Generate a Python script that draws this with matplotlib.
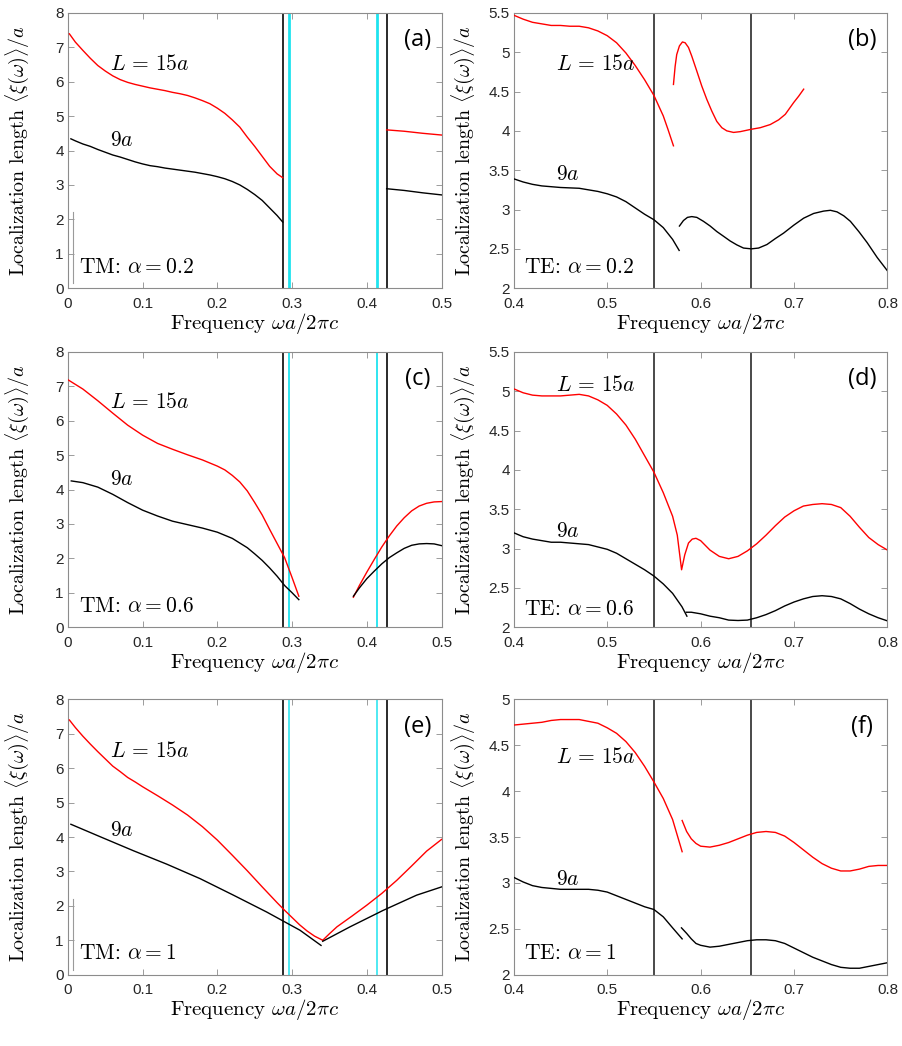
import matplotlib
matplotlib.use("Agg")
import matplotlib.pyplot as plt

plt.rcParams['mathtext.fontset'] = 'cm'
plt.rcParams['font.family'] = ['Liberation Sans', 'DejaVu Sans']

# ---- panel (a): TM, alpha = 0.2
a_red1_x = [0.002, 0.01, 0.02, 0.03, 0.04, 0.05, 0.06, 0.07, 0.08, 0.09, 0.10, 0.11, 0.12, 0.13, 0.14, 0.15,
            0.16, 0.17, 0.18, 0.19, 0.20, 0.21, 0.22, 0.23, 0.24, 0.25, 0.26, 0.27, 0.28, 0.2875]
a_red1_y = [7.39, 7.15, 6.91, 6.68, 6.47, 6.31, 6.17, 6.06, 5.98, 5.92, 5.87, 5.82, 5.78, 5.74, 5.69, 5.65,
            5.60, 5.53, 5.45, 5.36, 5.23, 5.08, 4.89, 4.68, 4.39, 4.12, 3.83, 3.54, 3.32, 3.21]
a_red2_x = [0.4265, 0.45, 0.475, 0.5]
a_red2_y = [4.60, 4.56, 4.50, 4.45]
a_blk1_x = [0.004, 0.01, 0.02, 0.03, 0.04, 0.05, 0.06, 0.07, 0.08, 0.09, 0.10, 0.11, 0.12, 0.13, 0.14, 0.15,
            0.16, 0.17, 0.18, 0.19, 0.20, 0.21, 0.22, 0.23, 0.24, 0.25, 0.26, 0.27, 0.28, 0.2875]
a_blk1_y = [4.34, 4.28, 4.19, 4.12, 4.03, 3.95, 3.87, 3.81, 3.74, 3.67, 3.61, 3.56, 3.53, 3.49, 3.46, 3.43,
            3.40, 3.37, 3.33, 3.29, 3.24, 3.18, 3.10, 3.00, 2.87, 2.72, 2.55, 2.33, 2.11, 1.92]
a_blk2_x = [0.4265, 0.45, 0.475, 0.5]
a_blk2_y = [2.89, 2.84, 2.77, 2.71]

# ---- panel (b): TE, alpha = 0.2
b_red1_x = [0.40, 0.41, 0.42, 0.43, 0.44, 0.45, 0.46, 0.47, 0.48, 0.49, 0.50, 0.51, 0.52, 0.53, 0.54, 0.55,
            0.56, 0.565, 0.5709]
b_red1_y = [5.47, 5.42, 5.38, 5.36, 5.34, 5.34, 5.33, 5.33, 5.31, 5.27, 5.21, 5.12, 4.99, 4.83, 4.65, 4.45,
            4.19, 4.02, 3.81]
b_red2_x = [0.5709, 0.5727, 0.5744, 0.5773, 0.5805, 0.5834, 0.587, 0.5905, 0.5959, 0.6012, 0.6066, 0.612,
            0.6173, 0.6227, 0.628, 0.6352, 0.6424, 0.6542, 0.6638, 0.6745, 0.6835, 0.6906, 0.6996, 0.7049, 0.7103]
b_red2_y = [4.59, 4.82, 4.97, 5.08, 5.13, 5.12, 5.06, 4.95, 4.76, 4.57, 4.40, 4.25,
            4.12, 4.04, 4.00, 3.98, 3.99, 4.02, 4.04, 4.08, 4.14, 4.21, 4.36, 4.44, 4.53]
b_blk1_x = [0.40, 0.41, 0.42, 0.43, 0.44, 0.45, 0.46, 0.47, 0.48, 0.49, 0.50, 0.51, 0.52, 0.53, 0.54, 0.55,
            0.56, 0.57, 0.577]
b_blk1_y = [3.39, 3.35, 3.32, 3.30, 3.29, 3.28, 3.275, 3.27, 3.25, 3.23, 3.20, 3.16, 3.10, 3.02, 2.94, 2.87,
            2.77, 2.62, 2.48]
b_blk2_x = [0.5773, 0.5816, 0.5859, 0.5905, 0.5959, 0.603, 0.6102, 0.6173, 0.6245, 0.6316, 0.6388, 0.6459,
            0.6542, 0.662, 0.671, 0.6799, 0.6888, 0.6996, 0.7103, 0.721, 0.7317, 0.7389, 0.746, 0.7532, 0.7603,
            0.7693, 0.7782, 0.789, 0.8]
b_blk2_y = [2.79, 2.86, 2.90, 2.91, 2.90, 2.85, 2.79, 2.72, 2.66, 2.60, 2.55, 2.51,
            2.50, 2.51, 2.555, 2.63, 2.70, 2.80, 2.89, 2.95, 2.98, 2.99, 2.97, 2.92, 2.85,
            2.72, 2.58, 2.39, 2.22]

# ---- panel (c): TM, alpha = 0.6
c_red1_x = [0.0, 0.02, 0.04, 0.06, 0.08, 0.10, 0.12, 0.14, 0.16, 0.18, 0.20, 0.21, 0.22, 0.23, 0.24, 0.25,
            0.26, 0.27, 0.28, 0.29, 0.30, 0.309]
c_red1_y = [7.19, 6.92, 6.58, 6.22, 5.87, 5.58, 5.34, 5.17, 5.01, 4.86, 4.68, 4.57, 4.41, 4.22, 3.96, 3.62,
            3.26, 2.84, 2.43, 2.02, 1.44, 0.90]
c_red2_x = [0.382, 0.39, 0.40, 0.41, 0.42, 0.43, 0.44, 0.45, 0.46, 0.47, 0.48, 0.49, 0.50]
c_red2_y = [0.87, 1.21, 1.60, 1.97, 2.33, 2.65, 2.94, 3.18, 3.38, 3.52, 3.60, 3.64, 3.65]
c_blk1_x = [0.0045, 0.02, 0.04, 0.06, 0.08, 0.10, 0.12, 0.14, 0.16, 0.18, 0.20, 0.22, 0.24, 0.25, 0.26, 0.27,
            0.28, 0.29, 0.30, 0.309]
c_blk1_y = [4.25, 4.20, 4.07, 3.86, 3.62, 3.40, 3.23, 3.08, 2.98, 2.88, 2.76, 2.58, 2.31, 2.13, 1.94, 1.72,
            1.48, 1.21, 1.00, 0.80]
c_blk2_x = [0.382, 0.39, 0.40, 0.41, 0.42, 0.43, 0.44, 0.45, 0.46, 0.47, 0.48, 0.49, 0.50]
c_blk2_y = [0.90, 1.14, 1.41, 1.63, 1.84, 2.02, 2.16, 2.29, 2.38, 2.42, 2.43, 2.42, 2.37]

# ---- panel (d): TE, alpha = 0.6
d_red_x = [0.40, 0.41, 0.42, 0.43, 0.44, 0.45, 0.46, 0.47, 0.48, 0.49, 0.50, 0.51, 0.52, 0.53, 0.54, 0.55,
           0.56, 0.57, 0.575, 0.5796, 0.583, 0.587, 0.591, 0.595, 0.60, 0.61, 0.62, 0.63, 0.64, 0.65, 0.66,
           0.67, 0.68, 0.69, 0.70, 0.71, 0.72, 0.73, 0.74, 0.75, 0.76, 0.77, 0.78, 0.79, 0.80]
d_red_y = [5.03, 4.98, 4.95, 4.94, 4.94, 4.94, 4.95, 4.96, 4.94, 4.89, 4.82, 4.71, 4.57, 4.39, 4.18, 3.97,
           3.71, 3.41, 3.17, 2.73, 2.92, 3.07, 3.12, 3.13, 3.10, 2.98, 2.90, 2.87, 2.90, 2.97, 3.06,
           3.17, 3.29, 3.40, 3.48, 3.54, 3.56, 3.57, 3.56, 3.52, 3.41, 3.27, 3.14, 3.05, 2.98]
d_blk1_x = [0.40, 0.41, 0.42, 0.43, 0.44, 0.45, 0.46, 0.47, 0.48, 0.49, 0.50, 0.51, 0.52, 0.53, 0.54, 0.55,
            0.56, 0.57, 0.58, 0.5853]
d_blk1_y = [3.20, 3.15, 3.12, 3.10, 3.08, 3.08, 3.07, 3.06, 3.05, 3.02, 2.99, 2.94, 2.87, 2.80, 2.73, 2.65,
            2.55, 2.43, 2.26, 2.14]
d_blk2_x = [0.5846, 0.59, 0.60, 0.61, 0.62, 0.63, 0.64, 0.65, 0.66, 0.67, 0.68, 0.69, 0.70, 0.71, 0.72, 0.73,
            0.74, 0.75, 0.76, 0.77, 0.78, 0.79, 0.80]
d_blk2_y = [2.19, 2.19, 2.17, 2.14, 2.12, 2.09, 2.085, 2.09, 2.12, 2.16, 2.21, 2.27, 2.32, 2.36, 2.39, 2.40,
            2.39, 2.36, 2.30, 2.23, 2.17, 2.12, 2.08]

# ---- panel (e): TM, alpha = 1
e_red1_x = [0.002, 0.01, 0.02, 0.03, 0.04, 0.05, 0.06, 0.07, 0.08, 0.09, 0.10, 0.12, 0.14, 0.16, 0.18, 0.20,
            0.22, 0.24, 0.26, 0.28, 0.29, 0.30, 0.31, 0.32, 0.33, 0.341]
e_red1_y = [7.40, 7.18, 6.93, 6.70, 6.48, 6.27, 6.06, 5.90, 5.73, 5.60, 5.46, 5.20, 4.93, 4.64, 4.30, 3.91,
            3.47, 3.02, 2.55, 2.09, 1.87, 1.66, 1.45, 1.27, 1.12, 1.00]
e_red2_x = [0.341, 0.35, 0.36, 0.38, 0.40, 0.42, 0.44, 0.46, 0.48, 0.50]
e_red2_y = [1.00, 1.19, 1.39, 1.70, 2.02, 2.36, 2.74, 3.16, 3.59, 3.93]
e_blk1_x = [0.004, 0.043, 0.0878, 0.1324, 0.1769, 0.2215, 0.266, 0.3106, 0.3387]
e_blk1_y = [4.37, 4.01, 3.60, 3.21, 2.79, 2.31, 1.82, 1.29, 0.85]
e_blk2_x = [0.341, 0.3775, 0.422, 0.4666, 0.5]
e_blk2_y = [0.97, 1.39, 1.87, 2.31, 2.55]

# ---- panel (f): TE, alpha = 1
f_red1_x = [0.40, 0.41, 0.42, 0.43, 0.44, 0.45, 0.46, 0.47, 0.48, 0.49, 0.50, 0.51, 0.52, 0.53, 0.54, 0.55,
            0.56, 0.57, 0.5802]
f_red1_y = [4.72, 4.73, 4.74, 4.75, 4.77, 4.78, 4.78, 4.78, 4.76, 4.74, 4.69, 4.63, 4.54, 4.42, 4.27, 4.10,
            3.92, 3.69, 3.34]
f_red2_x = [0.5802, 0.585, 0.59, 0.595, 0.60, 0.61, 0.62, 0.63, 0.64, 0.65, 0.66, 0.67, 0.68, 0.69, 0.70,
            0.71, 0.72, 0.73, 0.74, 0.75, 0.76, 0.77, 0.78, 0.79, 0.80]
f_red2_y = [3.68, 3.56, 3.48, 3.43, 3.40, 3.39, 3.41, 3.44, 3.48, 3.52, 3.55, 3.56, 3.55, 3.51, 3.44,
            3.36, 3.28, 3.21, 3.16, 3.13, 3.13, 3.15, 3.18, 3.19, 3.19]
f_blk1_x = [0.40, 0.41, 0.42, 0.43, 0.44, 0.45, 0.46, 0.47, 0.48, 0.49, 0.50, 0.51, 0.52, 0.53, 0.54, 0.55,
            0.56, 0.57, 0.5802]
f_blk1_y = [3.06, 3.01, 2.97, 2.95, 2.94, 2.93, 2.93, 2.93, 2.93, 2.92, 2.90, 2.86, 2.82, 2.78, 2.74, 2.71,
            2.63, 2.51, 2.39]
f_blk2_x = [0.5795, 0.585, 0.59, 0.595, 0.60, 0.61, 0.62, 0.63, 0.64, 0.65, 0.66, 0.67, 0.68, 0.69, 0.70,
            0.71, 0.72, 0.73, 0.74, 0.75, 0.76, 0.77, 0.78, 0.79, 0.80]
f_blk2_y = [2.51, 2.45, 2.39, 2.34, 2.32, 2.30, 2.31, 2.33, 2.35, 2.37, 2.38, 2.38, 2.37, 2.34, 2.29,
            2.24, 2.19, 2.15, 2.11, 2.08, 2.07, 2.07, 2.09, 2.11, 2.13]

# band edges (black) and light-line edges (cyan)
tm_black = [0.2877, 0.4270]
tm_cyan = [0.2962, 0.4140]
te_black = [0.5500, 0.6542]

panel_labels = ["(a)", "(b)", "(c)", "(d)", "(e)", "(f)"]
mode_texts = ["TM: $\\alpha = 0.2$", "TE: $\\alpha = 0.2$", "TM: $\\alpha = 0.6$",
              "TE: $\\alpha = 0.6$", "TM: $\\alpha = 1$", "TE: $\\alpha = 1$"]

fig = plt.figure(figsize=(9.03, 10.46), dpi=100)
lefts = [0.0752, 0.5690]
bottoms = [0.7245, 0.4004, 0.0682]
W, H = 0.4138, 0.2632

axes = []
for r in range(3):
    for c in range(2):
        axes.append(fig.add_axes([lefts[c], bottoms[r], W, H]))

def style(ax, xlim, ylim, xticks, yticks, xlabels, ylabels):
    ax.set_xlim(xlim)
    ax.set_ylim(ylim)
    ax.set_xticks(xticks)
    ax.set_xticklabels(xlabels)
    ax.set_yticks(yticks)
    ax.set_yticklabels(ylabels)
    ax.tick_params(direction='in', length=4, width=0.6, color='#8c8c8c', top=True, right=True,
                   labelsize=11, labelcolor='#262626')
    ax.tick_params(axis='x', pad=6)
    ax.tick_params(axis='y', pad=3)
    for s in ax.spines.values():
        s.set_color('#8c8c8c')
        s.set_linewidth(0.8)
    ax.set_xlabel(r'Frequency $\omega a/2\pi c$', fontsize=15, family='cmr10', labelpad=0)
    ax.set_ylabel(r'Localization length $\langle\xi(\omega)\rangle/a$', fontsize=14.4, family='cmr10')
    ax.yaxis.set_label_coords(-0.099, 0.5)

tm_xt = [0, 0.1, 0.2, 0.3, 0.4, 0.5]
tm_xl = ["0", "0.1", "0.2", "0.3", "0.4", "0.5"]
te_xt = [0.4, 0.5, 0.6, 0.7, 0.8]
te_xl = ["0.4", "0.5", "0.6", "0.7", "0.8"]

tm_data = [
    ([(a_red1_x, a_red1_y), (a_red2_x, a_red2_y)], [(a_blk1_x, a_blk1_y), (a_blk2_x, a_blk2_y)]),
    ([(c_red1_x, c_red1_y), (c_red2_x, c_red2_y)], [(c_blk1_x, c_blk1_y), (c_blk2_x, c_blk2_y)]),
    ([(e_red1_x, e_red1_y), (e_red2_x, e_red2_y)], [(e_blk1_x, e_blk1_y), (e_blk2_x, e_blk2_y)]),
]
te_data = [
    ([(b_red1_x, b_red1_y), (b_red2_x, b_red2_y)], [(b_blk1_x, b_blk1_y), (b_blk2_x, b_blk2_y)]),
    ([(d_red_x, d_red_y)], [(d_blk1_x, d_blk1_y), (d_blk2_x, d_blk2_y)]),
    ([(f_red1_x, f_red1_y), (f_red2_x, f_red2_y)], [(f_blk1_x, f_blk1_y), (f_blk2_x, f_blk2_y)]),
]
te_ylims = [(2, 5.5), (2, 5.5), (2, 5)]
te_text_y = [(4.84, 3.44, 2.26), (5.07, 3.22, 2.23), (4.37, 3.04, 2.23)]
tm_text_y = [(6.5, 4.3, 0.61), (6.53, 4.3, 0.61), (6.48, 4.18, 0.61)]
cyan_w = [2.0, 1.3, 1.1]
L_text = r'$L\,=\,15a$'

for r in range(3):
    # TM panel (left column)
    ax = axes[2 * r]
    for xv in tm_black:
        ax.axvline(xv, color='#2a2a2a', lw=1.4, zorder=1)
    for xv in tm_cyan:
        ax.axvline(xv, color='#1fe3ef', lw=cyan_w[r], zorder=1)
    reds, blks = tm_data[r]
    for x, y in reds:
        ax.plot(x, y, color='red', lw=1.0, zorder=3)
    for x, y in blks:
        ax.plot(x, y, color='black', lw=1.0, zorder=3)
    style(ax, (0, 0.5), (0, 8), tm_xt, range(9), tm_xl, [str(v) for v in range(9)])
    ty = tm_text_y[r]
    ax.text(0.056, ty[0], L_text, fontsize=15.5, va='center', ha='left')
    ax.text(0.056, ty[1], r'$9a$', fontsize=15.5, va='center', ha='left')
    ax.text(0.015, ty[2], mode_texts[2 * r], fontsize=15.5, va='center', ha='left', family='cmr10')
    ax.text(0.935, 0.90, panel_labels[2 * r], transform=ax.transAxes, fontsize=17, family='Open Sans',
            ha='center', va='center')
    if r != 1:
        ax.plot([0.0065, 0.0065], [0.15, 2.2], color='#9a9a9a', lw=0.8, zorder=2)

    # TE panel (right column)
    ax = axes[2 * r + 1]
    for xv in te_black:
        ax.axvline(xv, color='#3a3a3a', lw=1.3, zorder=1)
    reds, blks = te_data[r]
    for x, y in reds:
        ax.plot(x, y, color='red', lw=1.0, zorder=3)
    for x, y in blks:
        ax.plot(x, y, color='black', lw=1.0, zorder=3)
    lo, hi = te_ylims[r]
    yt = [lo + 0.5 * k for k in range(int(round((hi - lo) / 0.5)) + 1)]
    yl = [("%g" % v) for v in yt]
    style(ax, (0.4, 0.8), (lo, hi), te_xt, yt, te_xl, yl)
    ty = te_text_y[r]
    ax.text(0.445, ty[0], L_text, fontsize=15.5, va='center', ha='left')
    ax.text(0.445, ty[1], r'$9a$', fontsize=15.5, va='center', ha='left')
    ax.text(0.411, ty[2], mode_texts[2 * r + 1], fontsize=15.5, va='center', ha='left', family='cmr10')
    ax.text(0.933, 0.90, panel_labels[2 * r + 1], transform=ax.transAxes, fontsize=17, family='Open Sans',
            ha='center', va='center')

fig.savefig("out.png", dpi=100)
